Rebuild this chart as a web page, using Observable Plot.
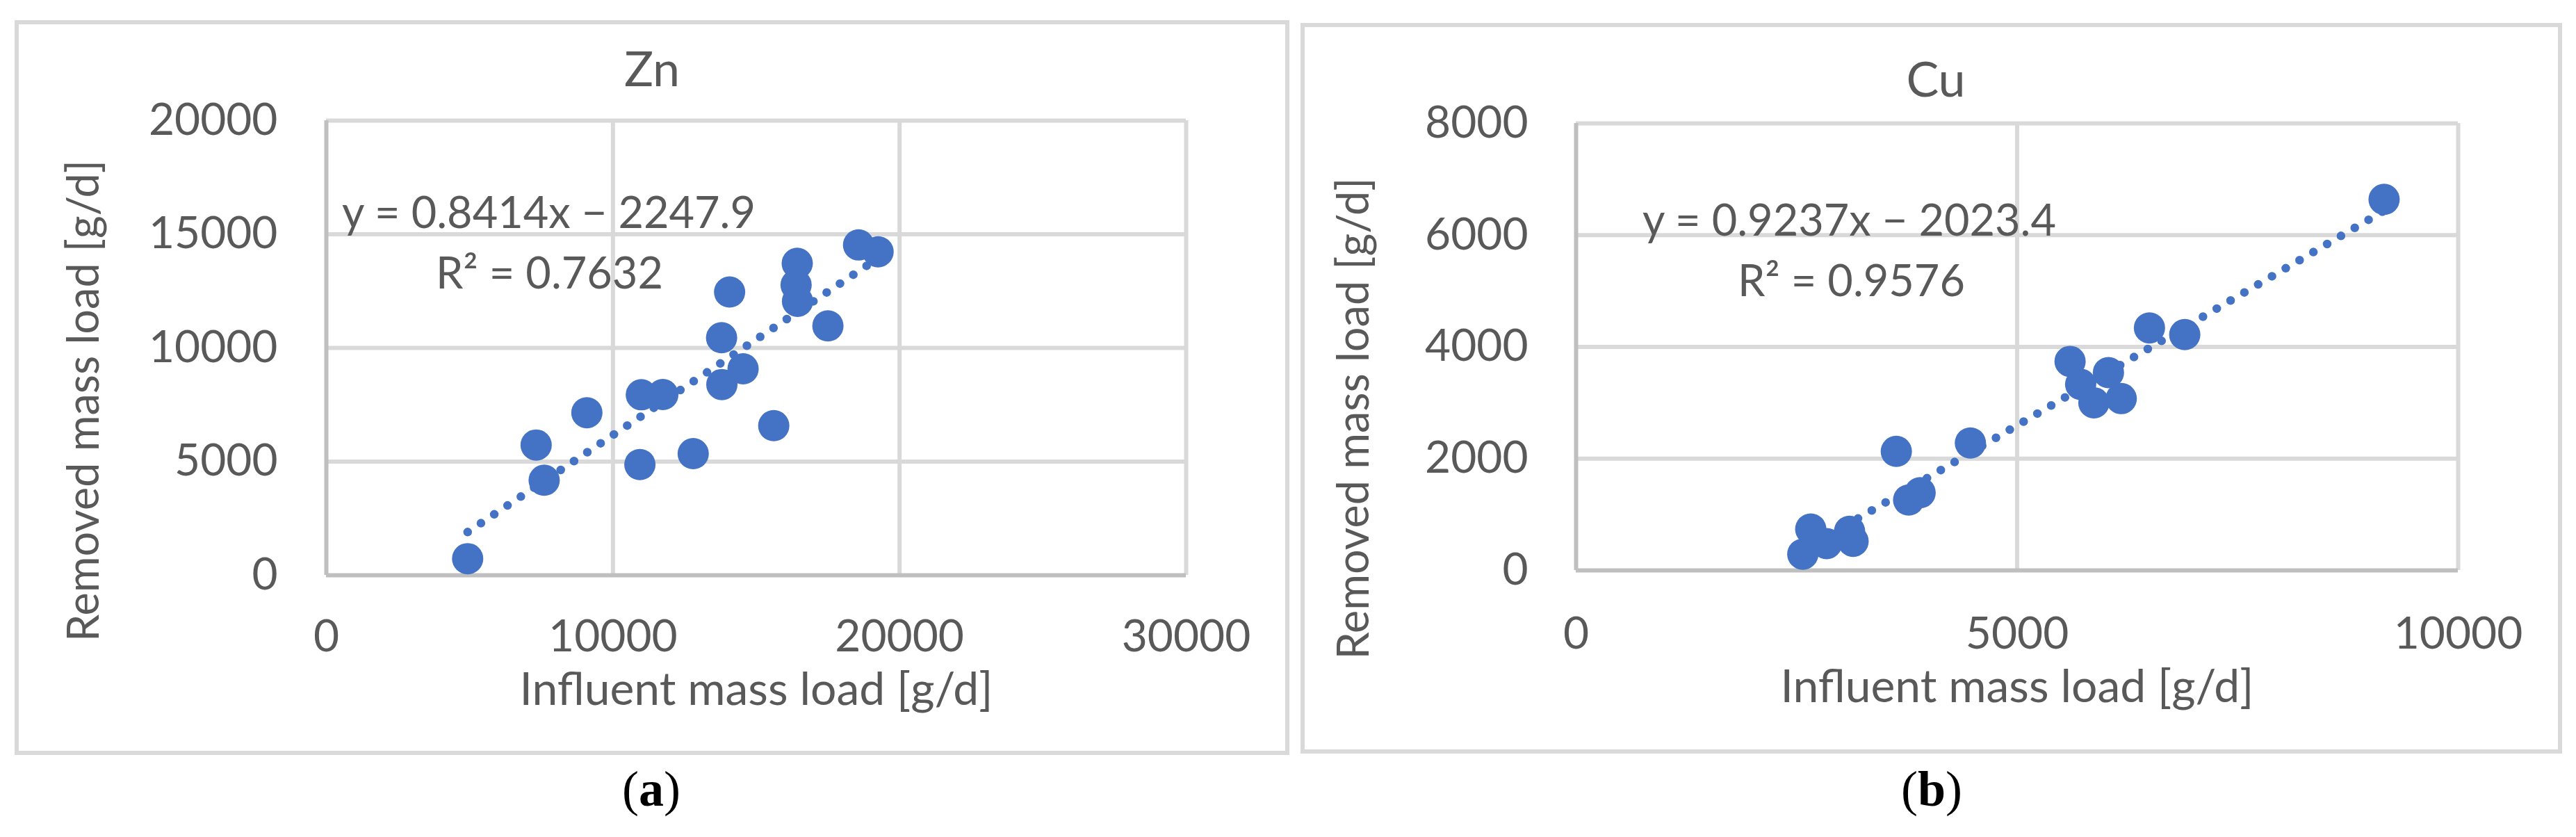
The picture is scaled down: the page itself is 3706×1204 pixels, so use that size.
<!DOCTYPE html>
<html>
<head>
<meta charset="utf-8">
<script src="https://cdn.jsdelivr.net/npm/d3@7"></script>
<script src="https://cdn.jsdelivr.net/npm/@observablehq/plot@0.6"></script>
<style>
  html, body { margin: 0; padding: 0; background: #fff; }
  #page { position: relative; width: 3706px; height: 1204px; overflow: hidden; background: #fff; }
  .panel { position: absolute; box-sizing: border-box; border: 6px solid #d9d9d9; }
  .chart { position: absolute; }
  .caption { position: absolute; font-family: "Liberation Serif", "Times New Roman", serif; font-size: 72px;
             color: #000; line-height: 1; transform: translateX(-50%); white-space: nowrap; }
</style>
</head>
<body>
<div id="page">
  <div class="panel" style="left:21px;top:29px;width:1834px;height:1057px;"></div>
  <div class="panel" style="left:1871px;top:33px;width:1815px;height:1051px;"></div>
  <div id="chartA" class="chart" style="left:24px;top:32px;width:1828px;height:1051px;"></div>
  <div id="chartB" class="chart" style="left:1874px;top:36px;width:1809px;height:1045px;"></div>
  <div class="caption" style="left:937px;top:1099px;">(<b>a</b>)</div>
  <div class="caption" style="left:2779px;top:1099px;">(<b>b</b>)</div>
</div>
<script>
// ---- Zn panel data ----
const znTitle = "Zn";
const znInfluent = [4930, 7320, 7600, 9090, 10940, 10990, 11740, 12800, 13800, 14540, 13790, 14070, 15610, 16430, 16390, 16440, 17500, 18570, 19250];
const znRemoved  = [730, 5730, 4180, 7150, 4870, 7940, 7950, 5350, 8390, 9080, 10450, 12460, 6580, 13720, 12770, 12050, 10970, 14530, 14230];
const znSlope = 0.8414;
const znIntercept = -2247.9;
const znEquation = "y = 0.8414x − 2247.9";
const znR2 = "R² = 0.7632";
const znXTicks = [0, 10000, 20000, 30000];
const znYTicks = [0, 5000, 10000, 15000, 20000];

// ---- Cu panel data ----
const cuTitle = "Cu";
const cuInfluent = [2570, 2660, 2840, 3100, 3140, 3630, 3770, 3900, 4470, 5600, 5720, 5870, 6035, 6180, 6500, 6900, 9160];
const cuRemoved  = [290, 740, 480, 700, 520, 2130, 1260, 1390, 2280, 3740, 3330, 3000, 3540, 3075, 4340, 4220, 6640];
const cuSlope = 0.9237;
const cuIntercept = -2023.4;
const cuEquation = "y = 0.9237x − 2023.4";
const cuR2 = "R² = 0.9576";
const cuXTicks = [0, 5000, 10000];
const cuYTicks = [0, 2000, 4000, 6000, 8000];

const xLabel = "Influent mass load [g/d]";
const yLabel = "Removed mass load [g/d]";

const BLUE = "#4472c4";
const TEXT = "#595959";

function makePanel(o) {
  const pts = o.xs.map((x, i) => ({x, y: o.ys[i]}));
  const ext = d3.extent(o.xs);
  const trend = ext.map(x => ({x, y: o.slope * x + o.intercept}));
  const fmt = d => String(d);
  return Plot.plot({
    width: o.width, height: o.height,
    marginLeft: o.ml, marginRight: o.mr, marginTop: o.mt, marginBottom: o.mb,
    style: {fontFamily: "Lato, 'Open Sans', sans-serif", fontSize: "64px", color: TEXT, background: "transparent", overflow: "visible"},
    x: {domain: [o.xTicks[0], o.xTicks[o.xTicks.length - 1]], ticks: o.xTicks, tickSize: 0, tickPadding: o.xPad, tickFormat: fmt, label: null},
    y: {domain: [o.yTicks[0], o.yTicks[o.yTicks.length - 1]], ticks: o.yTicks, tickSize: 0, tickPadding: o.yPad, tickFormat: fmt, label: null},
    marks: [
      Plot.ruleX(o.xTicks.slice(1), {stroke: "#d9d9d9", strokeWidth: 6}),
      Plot.ruleY(o.yTicks.slice(1), {stroke: "#d9d9d9", strokeWidth: 6}),
      Plot.ruleX([o.xTicks[0]], {stroke: "#bfbfbf", strokeWidth: 6}),
      Plot.ruleY([o.yTicks[0]], {stroke: "#bfbfbf", strokeWidth: 6}),
      Plot.line(trend, {x: "x", y: "y", stroke: BLUE, strokeWidth: 12.5, strokeDasharray: "0 23", strokeLinecap: "round"}),
      Plot.dot(pts, {x: "x", y: "y", r: 22.5, fill: BLUE, stroke: "none"}),
      Plot.text([o.title], {text: d => d, frameAnchor: "top", textAnchor: "middle", dx: o.titleDx, dy: o.titleDy, lineAnchor: "bottom", fontSize: 70, fill: TEXT}),
      Plot.text([o.eq], {text: d => d, frameAnchor: "top-left", textAnchor: "middle", dx: o.eqDx, dy: o.eqDy, lineAnchor: "bottom", fontSize: 63, fill: TEXT}),
      Plot.text([o.r2], {text: d => d, frameAnchor: "top-left", textAnchor: "middle", dx: o.r2Dx, dy: o.r2Dy, lineAnchor: "bottom", fontSize: 63, fill: TEXT}),
      Plot.text([xLabel], {text: d => d, frameAnchor: "bottom", textAnchor: "middle", dy: o.xtDy, lineAnchor: "top", fontSize: 66, fill: TEXT}),
      Plot.text([yLabel], {text: d => d, frameAnchor: "left", textAnchor: "middle", rotate: -90, dx: o.ytDx, dy: o.ytDy, lineAnchor: "middle", fontSize: 63, fill: TEXT})
    ]
  });
}

document.getElementById("chartA").appendChild(makePanel({
  xs: znInfluent, ys: znRemoved, slope: znSlope, intercept: znIntercept,
  xTicks: znXTicks, yTicks: znYTicks, title: znTitle, eq: znEquation, r2: znR2,
  width: 1828, height: 1051, ml: 445, mr: 146, mt: 141, mb: 256,
  xPad: 64, yPad: 70,
  titleDx: -150, titleDy: -50,
  eqDx: 320, eqDy: 154, r2Dx: 321, r2Dy: 241,
  xtDy: 140, ytDx: -348, ytDy: 76
}));

document.getElementById("chartB").appendChild(makePanel({
  xs: cuInfluent, ys: cuRemoved, slope: cuSlope, intercept: cuIntercept,
  xTicks: cuXTicks, yTicks: cuYTicks, title: cuTitle, eq: cuEquation, r2: cuR2,
  width: 1809, height: 1045, ml: 393, mr: 147, mt: 141, mb: 261,
  xPad: 67, yPad: 69,
  titleDx: -117, titleDy: -39,
  eqDx: 393, eqDy: 161, r2Dx: 396, r2Dy: 248,
  xtDy: 143, ytDx: -319, ytDy: 103
}));
</script>
</body>
</html>
